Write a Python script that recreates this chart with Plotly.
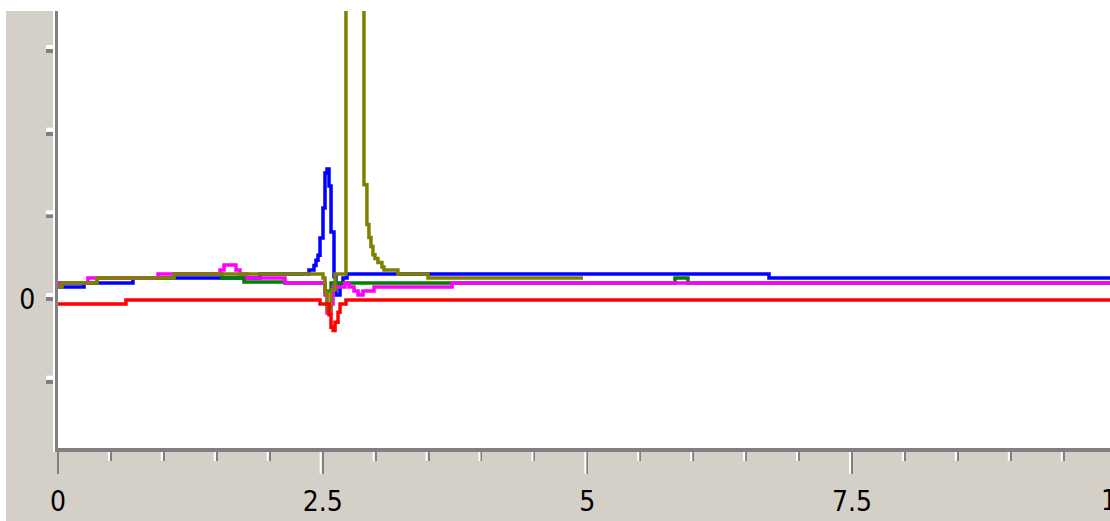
import plotly.graph_objects as go

# ---------------- data (x in minutes, y in detector units) ----------------
blue_x = [0, 0.246, 0.708, 1.908, 2.371, 2.418, 2.437, 2.456, 2.475, 2.503, 2.522, 2.541,
          2.560, 2.579, 2.607, 2.626, 2.664, 2.692, 2.730, 6.716, 10]
blue_y = [0.145, 0.194, 0.254, 0.302, 0.351, 0.405, 0.47, 0.53, 0.738, 1.10, 1.524, 1.573,
          1.367, 0.81, 0.27, 0.05, 0.19, 0.254, 0.302, 0.254, 0.254]

green_x = [0, 0.368, 1.096, 1.549, 1.757, 2.144, 2.522, 2.579, 5.828, 5.951, 10]
green_y = [0.194, 0.254, 0.302, 0.254, 0.206, 0.194, 0.097, 0.194, 0.254, 0.194, 0.194]

magenta_x = [0, 0.283, 0.945, 1.530, 1.568, 1.681, 1.719, 1.785, 2.144, 2.522, 2.541, 2.579,
             2.598, 2.645, 2.711, 2.749, 2.796, 2.834, 2.881, 2.985, 3.722, 10]
magenta_y = [0.194, 0.254, 0.302, 0.351, 0.411, 0.351, 0.302, 0.254, 0.194, 0.05, -0.17, -0.06,
             0.15, 0.145, 0.194, 0.145, 0.097, 0.048, 0.097, 0.145, 0.194, 0.194]

olive_x = [0, 0.038, 0.368, 1.096, 2.503, 2.522, 2.541, 2.579, 2.617, 2.720, 2.890, 2.918,
           2.937, 2.956, 2.975, 2.994, 3.022, 3.060, 3.079, 3.211, 3.495, 4.959]
olive_y = [0.145, 0.194, 0.254, 0.302, 0.254, 0.085, -0.133, 0.109, 0.302, 12.0, 1.383, 0.900,
           0.743, 0.634, 0.537, 0.489, 0.441, 0.387, 0.351, 0.302, 0.254, 0.254]

red_x = [0, 0.642, 2.475, 2.560, 2.579, 2.598, 2.617, 2.645, 2.664, 2.720, 10]
red_y = [-0.060, -0.012, -0.060, -0.19, -0.34, -0.38, -0.28, -0.16, -0.06, -0.012, -0.012]

x_tickvals = [0, 2.5, 5, 7.5]
x_ticktext = ["0", "2.5", "5", "7.5"]
x_last_tick = 10
x_last_text = "10"
y_tickvals = [-1, 0, 1, 2, 3]
y_ticktext = ["", "0", "", "", ""]

# ---------------- style ----------------
W, H = 1110, 521
ML, MR, MT, MB = 58, 0, 11, 73
X_RANGE = [0, 9.937]
Y_RANGE = [-1.802, 3.484]
BG = "#D4D0C8"
AXC = "#808080"
FONT = dict(family="Liberation Sans Narrow, DejaVu Sans Condensed, Roboto Condensed, Liberation Sans, Arial",
            size=28, color="black")
LW = 3.5

series = [
    (blue_x, blue_y, "#0000FF"),
    (green_x, green_y, "#008000"),
    (magenta_x, magenta_y, "#FF00FF"),
    (olive_x, olive_y, "#808000"),
    (red_x, red_y, "#FF0000"),
]

fig = go.Figure()
for xs, ys, c in series:
    fig.add_trace(go.Scatter(x=xs, y=ys, mode="lines", line=dict(color=c, width=LW, shape="hv"),
                             hoverinfo="skip", showlegend=False))

shapes = []
# white page border strips (left and top)
shapes.append(dict(type="rect", xref="paper", yref="paper", xsizemode="pixel", ysizemode="pixel",
                   xanchor=0, x0=-ML, x1=-ML + 6, yanchor=0, y0=-MB - 5, y1=H,
                   fillcolor="white", line=dict(width=0), layer="above"))
shapes.append(dict(type="rect", xref="paper", yref="paper", xsizemode="pixel", ysizemode="pixel",
                   xanchor=0, x0=-ML, x1=W, yanchor=1, y0=0, y1=MT + 5,
                   fillcolor="white", line=dict(width=0), layer="above"))
# white highlight beside y-axis line
shapes.append(dict(type="rect", xref="paper", yref="paper", xsizemode="pixel", ysizemode="pixel",
                   xanchor=0, x0=-5, x1=-3, yanchor=0, y0=-4, y1=MT + 1000,
                   fillcolor="white", line=dict(width=0), layer="above"))
# corner
shapes.append(dict(type="rect", xref="paper", yref="paper", xsizemode="pixel", ysizemode="pixel",
                   xanchor=0, x0=-3, x1=0, yanchor=0, y0=0, y1=-4,
                   fillcolor=AXC, line=dict(width=0), layer="above"))
# x tick highlights
minor_vals = [i * 0.5 for i in range(0, 20)]
for v in minor_vals:
    major = abs(v / 2.5 - round(v / 2.5)) < 1e-9
    shapes.append(dict(type="rect", xref="x", yref="paper", xsizemode="pixel", ysizemode="pixel",
                       xanchor=v, x0=-3, x1=-1, yanchor=0, y0=-4, y1=-26 if major else -13,
                       fillcolor="white", line=dict(width=0), layer="above"))
# y tick highlights
for v in y_tickvals:
    shapes.append(dict(type="rect", xref="paper", yref="y", xsizemode="pixel", ysizemode="pixel",
                       xanchor=0, x0=-12, x1=-5, yanchor=v, y0=2, y1=6,
                       fillcolor="white", line=dict(width=0), layer="above"))

# paper position of the last (partly visible) x tick label
x_last_paper = (x_last_tick - X_RANGE[0]) / (X_RANGE[1] - X_RANGE[0])

fig.update_layout(
    width=W, height=H,
    margin=dict(l=ML, r=MR, t=MT, b=MB, pad=0, autoexpand=False),
    paper_bgcolor=BG, plot_bgcolor="white",
    shapes=shapes,
    xaxis=dict(range=X_RANGE, showgrid=False, zeroline=False, showline=True, linecolor=AXC, linewidth=4,
               ticks="outside", ticklen=22, tickwidth=2, tickcolor=AXC, automargin=False,
               tickvals=x_tickvals, ticktext=x_ticktext, tickfont=FONT, ticklabelstandoff=3,
               minor=dict(ticks="outside", ticklen=9, tickwidth=2, tickcolor=AXC, dtick=0.5, tick0=0,
                          showgrid=False),
               fixedrange=True),
    yaxis=dict(range=Y_RANGE, showgrid=False, zeroline=False, showline=True, linecolor=AXC, linewidth=3,
               ticks="outside", ticklen=9, tickwidth=4, tickcolor=AXC, automargin=False,
               tickvals=y_tickvals, ticktext=y_ticktext, tickfont=FONT, ticklabelstandoff=5,
               fixedrange=True),
    annotations=[dict(x=x_last_paper, y=0, xref="paper", yref="paper", text=x_last_text, showarrow=False,
                      font=FONT, xanchor="center", yanchor="middle", yshift=-52)],
)

fig.write_html("out.html", config={"displayModeBar": False})
